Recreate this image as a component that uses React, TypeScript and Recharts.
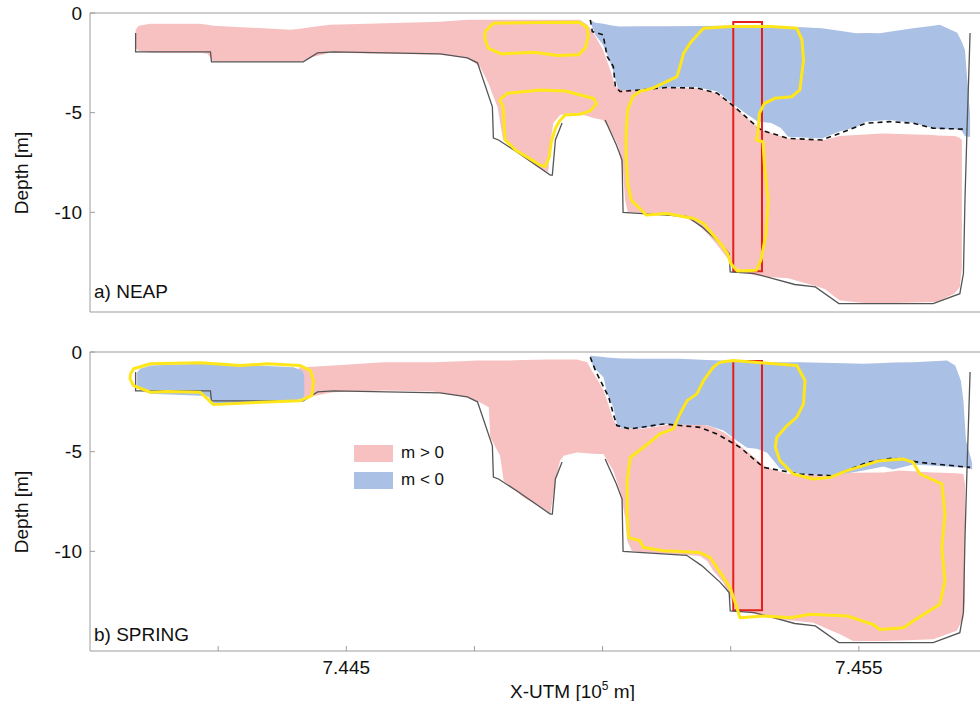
import React from 'react';
import { ComposedChart, Area, Scatter, XAxis, YAxis, ReferenceArea, Legend } from 'recharts';

// x = UTM easting [m], depth [m] (negative down)
const xTicks = [744250, 744500, 744750, 745000, 745250, 745500, 745750];
const xTickLabels: Record<number, string> = { 744500: '7.445', 745500: '7.455' };
const yTicks = [-10, -5, 0];

// channel bottom (same transect in both panels), the cavity roof is hidden under the fill
const bathymetryWest = [
  [744089, -1.0], [744089, -1.95], [744235, -1.95], [744237, -2.45], [744416, -2.45],
  [744444, -2.0], [744475, -1.95], [744683, -2.05], [744736, -2.25], [744756, -2.5],
  [744785, -4.71], [744787, -6.27], [744797, -6.37], [744836, -7.02], [744898, -8.13],
  [744902, -8.13], [744908, -6.37], [744921, -5.52],
];
const bathymetryEast = [
  [745005, -5.37], [745027, -6.62], [745038, -7.38], [745040, -10.0], [745164, -10.2],
  [745194, -10.73], [745230, -11.57], [745247, -12.07], [745249, -12.99], [745296, -13.07],
  [745375, -13.62], [745415, -13.74], [745461, -14.58], [745645, -14.58], [745697, -14.08],
  [745704, -13.07], [745707, -9.39], [745711, -5.87], [745717, -1.0],
];

// [x, bottom, top]
const neapPositive = [
  [744089, -1.75, -0.84], [744095, -1.9, -0.64], [744118, -2.0, -0.54], [744215, -2.0, -0.54],
  [744229, -2.05, -0.59], [744241, -2.45, -0.64], [744391, -2.45, -0.84], [744410, -2.45, -0.79],
  [744436, -2.2, -0.69], [744469, -2.0, -0.59], [744683, -2.1, -0.44], [744736, -2.25, -0.34],
  [744761, -2.7, -0.34], [744777, -3.51, -0.34], [744795, -4.71, -0.34], [744806, -6.37, -0.34],
  [744834, -7.03, -0.34], [744873, -7.73, -0.34], [744894, -7.98, -0.34], [744898, -6.52, -0.34],
  [744904, -5.52, -0.34], [744917, -5.12, -0.34], [744943, -5.02, -0.34], [744956, -5.07, -0.34],
  [744970, -5.17, -0.59], [744982, -5.27, -0.99], [745001, -5.37, -1.85], [745015, -5.87, -2.85],
  [745025, -6.37, -3.71], [745031, -6.72, -3.76], [745040, -8.03, -3.81], [745044, -9.39, -3.81],
  [745049, -9.97, -3.83], [745072, -10.02, -3.86], [745099, -10.06, -3.81], [745124, -10.14, -3.74],
  [745165, -10.31, -3.77], [745185, -10.59, -3.77], [745204, -11.05, -3.91], [745224, -11.65, -4.03],
  [745251, -12.55, -4.53], [745257, -12.75, -4.7], [745290, -13.11, -5.45], [745296, -13.16, -5.57],
  [745309, -13.21, -5.87], [745362, -13.31, -6.29], [745422, -13.74, -6.37], [745434, -13.86, -6.37],
  [745462, -14.41, -6.17], [745495, -14.51, -6.12], [745528, -14.58, -6.07], [745547, -14.56, -6.04],
  [745645, -14.5, -6.12], [745653, -14.49, -6.15], [745686, -14.08, -6.17], [745692, -13.91, -6.21],
  [745697, -13.74, -6.27], [745701, -12.74, -6.37],
];

const neapNegative = [
  [744976, -0.44, -0.34], [744982, -0.84, -0.44], [744986, -1.1, -0.49], [745001, -1.6, -0.54],
  [745011, -2.2, -0.59], [745021, -2.95, -0.64], [745029, -3.71, -0.67], [745034, -3.86, -0.68],
  [745073, -3.86, -0.67], [745124, -3.74, -0.66], [745185, -3.72, -0.65], [745224, -3.94, -0.64],
  [745257, -4.61, -0.64], [745283, -5.11, -0.65], [745303, -5.45, -0.66], [745329, -5.52, -0.67],
  [745348, -5.77, -0.67], [745362, -6.21, -0.68], [745428, -6.29, -0.76], [745462, -5.95, -0.89],
  [745495, -5.72, -1.01], [745514, -5.45, -1.0], [745541, -5.39, -1.01], [745560, -5.37, -0.94],
  [745606, -5.5, -0.76], [745645, -5.78, -0.64], [745658, -5.82, -0.59], [745692, -5.84, -0.99],
  [745701, -5.92, -1.45], [745707, -6.17, -1.85], [745717, -6.22, -5.12],
];

const neapInterface = [
  [744976, -0.34], [744980, -0.93], [745001, -1.1], [745009, -2.18], [745021, -2.69],
  [745025, -3.69], [745034, -3.94], [745073, -3.86], [745124, -3.74], [745185, -3.77],
  [745224, -4.03], [745257, -4.7], [745290, -5.45], [745309, -5.87], [745362, -6.29],
  [745428, -6.37], [745462, -6.04], [745514, -5.53], [745560, -5.45], [745606, -5.53],
  [745645, -5.78], [745711, -5.83],
];

const neapContourA = [
  [744771, -0.93], [744787, -0.51], [744878, -0.48], [744955, -0.46], [744970, -0.74],
  [744972, -1.18], [744966, -1.76], [744953, -2.1], [744912, -2.13], [744867, -1.97],
  [744802, -2.05], [744777, -1.76], [744770, -1.26], [744771, -0.93],
];

const neapContourB = [
  [744799, -4.36], [744814, -4.03], [744878, -3.86], [744927, -3.91], [744983, -4.29],
  [744988, -4.56], [744976, -4.91], [744956, -5.08], [744927, -5.12], [744916, -5.42],
  [744908, -5.78], [744900, -6.47], [744896, -7.23], [744888, -7.71], [744878, -7.63],
  [744853, -7.23], [744830, -6.87], [744810, -6.37], [744806, -4.71], [744799, -4.36],
];

const neapContourC = [
  [745188, -1.01], [745197, -0.76], [745250, -0.68], [745329, -0.68], [745379, -0.76],
  [745389, -1.35], [745392, -2.35], [745385, -3.86], [745369, -4.2], [745336, -4.28],
  [745316, -4.53], [745306, -5.03], [745303, -6.04], [745300, -6.37], [745313, -6.46],
  [745316, -7.71], [745323, -9.39], [745319, -11.06], [745309, -12.4], [745300, -12.9],
  [745263, -12.94], [745250, -12.57], [745244, -12.07], [745230, -11.56], [745197, -10.56],
  [745178, -10.31], [745125, -10.06], [745085, -10.14], [745079, -9.97], [745056, -9.39],
  [745049, -8.55], [745046, -7.21], [745046, -6.04], [745049, -4.86], [745059, -4.2],
  [745072, -3.94], [745098, -3.77], [745125, -3.44], [745145, -3.19], [745151, -2.69],
  [745158, -2.02], [745171, -1.51], [745188, -1.01],
];

const springPositive = [
  [744407, -2.34, -0.78], [744475, -2.02, -0.68], [744572, -1.93, -0.51], [744670, -1.98, -0.51],
  [744736, -2.27, -0.45], [744755, -2.44, -0.43], [744778, -2.77, -0.43], [744781, -4.28, -0.43],
  [744800, -5.2, -0.43], [744807, -6.46, -0.43], [744846, -7.3, -0.4], [744892, -7.96, -0.38],
  [744898, -8.13, -0.38], [744908, -6.46, -0.38], [744917, -5.45, -0.38], [744924, -5.2, -0.38],
  [744950, -5.04, -0.38], [744970, -5.08, -0.51], [744979, -5.1, -0.93], [744995, -5.12, -1.6],
  [745002, -5.12, -1.93], [745009, -5.45, -2.44], [745021, -5.95, -3.44], [745034, -6.96, -3.81],
  [745044, -8.3, -3.84], [745048, -9.47, -3.84], [745057, -9.97, -3.84], [745073, -10.03, -3.86],
  [745106, -10.08, -3.74], [745138, -10.13, -3.61], [745190, -10.23, -3.64], [745204, -10.48, -3.69],
  [745216, -10.98, -3.79], [745236, -11.58, -4.03], [745246, -12.15, -4.2], [745259, -12.9, -4.5],
  [745288, -13.09, -5.12], [745314, -13.24, -5.7], [745321, -13.33, -5.8], [745360, -13.44, -6.11],
  [745411, -13.58, -6.16], [745463, -14.16, -6.11], [745489, -14.5, -6.06], [745548, -14.5, -6.04],
  [745580, -14.47, -5.95], [745645, -14.41, -6.04], [745691, -13.99, -6.08], [745704, -13.33, -6.12],
  [745707, -12.49, -6.61],
];

const springNegativeWest = [
  [744092, -1.73, -1.03], [744098, -1.93, -0.84], [744118, -2.1, -0.68], [744215, -2.19, -0.59],
  [744231, -2.24, -0.6], [744241, -2.57, -0.63], [744326, -2.57, -0.68], [744397, -2.44, -0.76],
  [744414, -2.35, -0.93], [744418, -2.24, -1.18],
];

const springNegative = [
  [744976, -0.28, -0.18], [744982, -0.76, -0.2], [745002, -1.27, -0.25], [745009, -2.1, -0.28],
  [745021, -2.77, -0.3], [745028, -3.61, -0.31], [745038, -3.84, -0.33], [745073, -3.84, -0.34],
  [745126, -3.61, -0.34], [745151, -3.64, -0.34], [745204, -3.67, -0.4], [745236, -3.94, -0.43],
  [745262, -4.45, -0.48], [745282, -4.8, -0.51], [745301, -4.85, -0.51], [745321, -5.05, -0.51],
  [745346, -5.85, -0.51], [745385, -6.12, -0.51], [745450, -6.21, -0.55], [745509, -5.95, -0.59],
  [745548, -5.75, -0.55], [745567, -5.9, -0.53], [745606, -5.65, -0.51], [745672, -5.75, -0.43],
  [745688, -5.78, -0.68], [745699, -5.78, -1.43], [745704, -5.79, -2.44], [745709, -5.8, -4.45],
  [745721, -5.9, -5.55],
];

const springInterface = [
  [744976, -0.26], [744986, -0.93], [745012, -2.27], [745021, -3.11], [745028, -3.69],
  [745054, -3.86], [745119, -3.61], [745190, -3.78], [745223, -4.11], [745268, -4.78],
  [745314, -5.79], [745385, -6.12], [745450, -6.21], [745516, -5.54], [745567, -5.32],
  [745619, -5.54], [745717, -5.79],
];

const springContourWest = [
  [744079, -1.1], [744085, -0.84], [744118, -0.59], [744215, -0.54], [744293, -0.68],
  [744346, -0.59], [744410, -0.68], [744430, -0.93], [744436, -1.43], [744433, -2.19],
  [744410, -2.44], [744332, -2.52], [744241, -2.64], [744229, -2.35], [744215, -2.02],
  [744151, -1.98], [744118, -2.02], [744085, -1.69], [744078, -1.35], [744079, -1.1],
];

const springContourEast = [
  [745229, -0.51], [745255, -0.43], [745379, -0.68], [745395, -1.43], [745392, -2.6],
  [745379, -3.27], [745360, -3.69], [745340, -4.28], [745337, -4.78], [745346, -5.45],
  [745372, -6.12], [745411, -6.37], [745444, -6.29], [745477, -5.95], [745541, -5.45],
  [745587, -5.37], [745606, -5.54], [745619, -6.12], [745662, -6.62], [745668, -8.13],
  [745662, -9.8], [745668, -11.48], [745658, -12.65], [745606, -13.49], [745587, -13.83],
  [745541, -13.92], [745528, -13.67], [745477, -13.24], [745405, -13.16], [745366, -13.33],
  [745314, -13.24], [745268, -13.33], [745262, -12.82], [745249, -11.82], [745210, -10.31],
  [745190, -10.06], [745119, -9.97], [745080, -9.81], [745073, -9.47], [745051, -9.31],
  [745048, -8.13], [745048, -6.46], [745054, -5.29], [745080, -4.78], [745112, -4.11],
  [745138, -3.86], [745151, -3.11], [745165, -2.44], [745184, -2.1], [745197, -1.43],
  [745216, -0.76], [745229, -0.51],
];

// sampled profile [x1, x2, bottom, top]
const profileBox = [745255, 745311, -12.95, -0.45];

const legendItems = [
  { label: 'm > 0', color: '#F7C1C1' },
  { label: 'm < 0', color: '#AAC0E4' },
];

const PINK = '#F7C1C1';
const BLUE = '#AAC0E4';
const YELLOW = '#FFE61A';
const AXIS = '#9c9c9c';
const FONT = "'Liberation Sans', Arial, Helvetica, sans-serif";

const band = (rows: number[][]) => rows.map(([x, lo, hi]) => ({ x, band: [lo, hi] }));
const pts = (rows: number[][]) => rows.map(([x, y]) => ({ x, y }));
const noDot = () => <g />;

const depthTitle = () => (
  <text x={21} y={173} transform="rotate(-90 21 173)" textAnchor="middle" dominantBaseline="central"
    fontSize={19} fill="#111" fontFamily={FONT}>
    Depth [m]
  </text>
);

const xTitle = () => (
  <text x={510} y={359} fontSize={19} fill="#111" fontFamily={FONT}>
    X-UTM [10<tspan fontSize={12} dy={-8}>5</tspan><tspan dy={8}>{' m]'}</tspan>
  </text>
);

const LegendBox = () => (
  <div style={{ fontFamily: FONT, fontSize: 17, color: '#111' }}>
    {legendItems.map((it) => (
      <div key={it.label} style={{ display: 'flex', alignItems: 'center', height: 27 }}>
        <span style={{ width: 39, height: 17, background: it.color, marginRight: 8 }} />
        <span>{it.label}</span>
      </div>
    ))}
  </div>
);

interface PanelProps {
  top: number;
  title: string;
  positive: number[][][];
  negative: number[][][];
  iface: number[][];
  contours: number[][][];
  bottomAxis: boolean;
}

function Panel({ top, title, positive, negative, iface, contours, bottomAxis }: PanelProps) {
  const height = bottomAxis ? 362 : 330;
  return (
    <div style={{ position: 'absolute', left: 0, top }}>
      <ComposedChart width={990} height={height} margin={{ top: 12, right: 3, bottom: 0, left: 0 }}>
        <XAxis xAxisId="top" orientation="top" type="number" domain={[744000, 745750]} ticks={xTicks}
          interval={0} tick={false} tickSize={-5} height={1} stroke={AXIS} allowDataOverflow />
        <XAxis type="number" dataKey="x" domain={[744000, 745750]} ticks={xTicks} interval={0}
          allowDataOverflow stroke={AXIS} tickSize={-5} tickMargin={15} height={bottomAxis ? 50 : 18}
          tick={bottomAxis ? { fill: '#111', fontSize: 19, fontFamily: FONT } : false}
          tickFormatter={(v: number) => xTickLabels[v] ?? ''}
          label={bottomAxis ? xTitle : undefined} />
        <YAxis type="number" dataKey="y" domain={[-15, 0]} ticks={yTicks} interval={0} width={90}
          allowDataOverflow stroke={AXIS} tickSize={-5} tickMargin={13}
          tick={{ fill: '#111', fontSize: 19, fontFamily: FONT }} label={depthTitle} />

        {[bathymetryWest, bathymetryEast].map((rows, i) => (
          <Scatter key={'b' + i} data={pts(rows)} fill="#555" shape={noDot}
            line={{ stroke: '#555', strokeWidth: 1.3 }} lineJointType="linear" isAnimationActive={false} />
        ))}
        {positive.map((rows, i) => (
          <Area key={'p' + i} data={band(rows)} dataKey="band" type="linear" fill={PINK} fillOpacity={1}
            stroke="none" dot={false} activeDot={false} isAnimationActive={false} />
        ))}
        {negative.map((rows, i) => (
          <Area key={'n' + i} data={band(rows)} dataKey="band" type="linear" fill={BLUE} fillOpacity={1}
            stroke="none" dot={false} activeDot={false} isAnimationActive={false} />
        ))}
        <Scatter data={pts(iface)} fill="#111" shape={noDot}
          line={{ stroke: '#111', strokeWidth: 1.6, strokeDasharray: '5 4' }}
          lineJointType="linear" isAnimationActive={false} />
        {contours.map((rows, i) => (
          <Scatter key={'c' + i} data={pts(rows)} fill={YELLOW} shape={noDot}
            line={{ stroke: YELLOW, strokeWidth: 3, strokeLinejoin: 'round' }}
            lineJointType="linear" isAnimationActive={false} />
        ))}
        <ReferenceArea x1={profileBox[0]} x2={profileBox[1]} y1={profileBox[2]} y2={profileBox[3]}
          fill="none" fillOpacity={0} stroke="#E3201B" strokeWidth={2} />
        {bottomAxis && (
          <Legend content={LegendBox} layout="vertical" align="center" verticalAlign="middle"
            wrapperStyle={{ left: 354, top: 101, width: 110 }} />
        )}
      </ComposedChart>
      <div style={{ position: 'absolute', left: 94, top: bottomAxis ? 285 : 281, fontFamily: FONT,
        fontSize: 19, color: '#111', whiteSpace: 'nowrap' }}>
        {title}
      </div>
    </div>
  );
}

export default function App() {
  return (
    <div style={{ position: 'fixed', left: 0, top: 0, width: 980, height: 704, overflow: 'hidden', background: '#fff' }}>
      <Panel top={0} title="a) NEAP" positive={[neapPositive]} negative={[neapNegative]}
        iface={neapInterface} contours={[neapContourA, neapContourB, neapContourC]} bottomAxis={false} />
      <Panel top={338.5} title="b) SPRING" positive={[springPositive]}
        negative={[springNegativeWest, springNegative]} iface={springInterface}
        contours={[springContourWest, springContourEast]} bottomAxis />
    </div>
  );
}
